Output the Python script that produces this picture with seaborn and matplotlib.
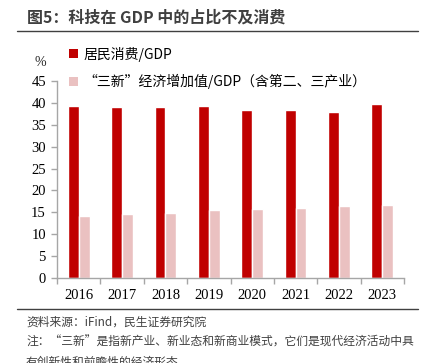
import matplotlib
matplotlib.use("Agg")
import matplotlib.pyplot as plt
import seaborn as sns
import pandas as pd
from matplotlib.patches import Patch
from matplotlib.lines import Line2D

# ─────────────────────────────────────────────
# DATA
# ─────────────────────────────────────────────
years = ["2016", "2017", "2018", "2019", "2020", "2021", "2022", "2023"]
consumption = [39.3, 39.1, 39.0, 39.4, 38.3, 38.4, 37.9, 39.7]
sanxin = [14.2, 14.6, 14.9, 15.5, 15.7, 16.1, 16.4, 16.6]
series_names = ["居民消费/GDP", "“三新”经济增加值/GDP（含第二、三产业）"]
colors = ["#C00000", "#EAC1C1"]
yticks = list(range(0, 50, 5))

df = pd.DataFrame({
    "year": years * 2,
    "value": consumption + sanxin,
    "series": [series_names[0]] * len(years) + [series_names[1]] * len(years),
})

sns.set_theme(style="white")
plt.rcParams["font.family"] = ["Liberation Serif", "Noto Sans CJK SC", "DejaVu Sans"]
CJK = ["Noto Sans CJK SC", "DejaVu Sans"]

fig = plt.figure(figsize=(4.28, 3.63), dpi=100)
ax = fig.add_axes([57 / 428, 1 - 278 / 363, 347 / 428, 197 / 363])

sns.barplot(data=df, x="year", y="value", hue="series", order=years,
            hue_order=series_names, palette=colors, width=0.5,
            saturation=1, legend=False, ax=ax)

ax.set_ylim(0, 45)
ax.set_xlim(-0.5, len(years) - 0.5)
ax.set_yticks(yticks)
ax.set_yticklabels([str(t) for t in yticks], fontsize=10.5, color="#000000")
ax.set_xticks([i - 0.5 for i in range(len(years) + 1)], minor=False)
ax.set_xticklabels([])
ax.set_xticks(range(len(years)), minor=True)
ax.set_xticklabels(years, minor=True, fontsize=10.5, color="#000000")
ax.tick_params(axis="x", which="major", direction="out", length=4,
               color="#A6A6A6", width=1, bottom=True)
ax.tick_params(axis="x", which="minor", length=0, pad=8, bottom=True)
ax.tick_params(axis="y", direction="out", length=4, color="#A6A6A6",
               width=1, left=True, pad=4)
ax.set_xlabel("")
ax.set_ylabel("")
for side in ["top", "right"]:
    ax.spines[side].set_visible(False)
for side in ["left", "bottom"]:
    ax.spines[side].set_color("#A6A6A6")
    ax.spines[side].set_linewidth(1)

# legend
handles = [Patch(facecolor=c, edgecolor="none") for c in colors]
leg = fig.legend(handles, series_names, loc="upper left",
                 bbox_to_anchor=(57 / 428, 1 - 34 / 363), frameon=False,
                 handlelength=0.6, handleheight=0.6, handletextpad=0.4,
                 labelspacing=0.9, prop={"family": CJK, "size": 10})
for t in leg.get_texts():
    t.set_color("#000000")

fig.text(40 / 428, 1 - 62 / 363, "%", fontsize=10, ha="center", va="center")

# title + rules
fig.text(27 / 428, 1 - 18 / 363, "图5：科技在 GDP 中的占比不及消费", fontsize=11.5,
         fontweight="bold", color="#3F3F3F", family=CJK, ha="left", va="center")
fig.add_artist(Line2D([17 / 428, 418 / 428], [1 - 31 / 363] * 2,
                      color="#404040", lw=1))
fig.add_artist(Line2D([17 / 428, 418 / 428], [1 - 309 / 363] * 2,
                      color="#404040", lw=1))

# footer notes
notes = [
    "资料来源：iFind，民生证券研究院",
    "注：“三新”是指新产业、新业态和新商业模式，它们是现代经济活动中具",
    "有创新性和前瞻性的经济形态",
]
for i, line in enumerate(notes):
    fig.text(26 / 428, 1 - (322 + 20 * i) / 363, line, fontsize=8.5,
             color="#404040", family=CJK, ha="left", va="center")

fig.savefig("out.png", dpi=100)
